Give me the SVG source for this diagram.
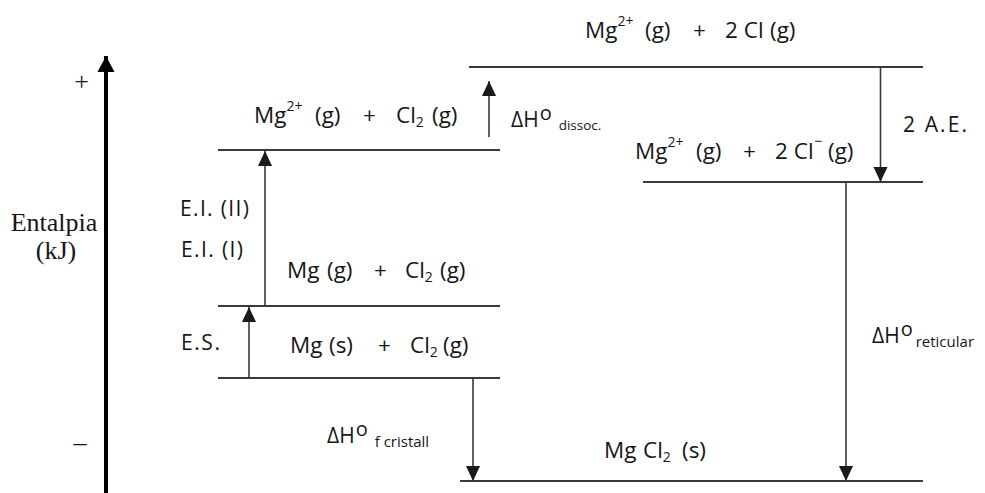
<svg xmlns="http://www.w3.org/2000/svg" width="985" height="493" viewBox="0 0 985 493">
<defs>
<marker id="ah" markerUnits="userSpaceOnUse" markerWidth="16" markerHeight="16" viewBox="0 0 16 16" refX="15" refY="8" orient="auto">
<path d="M0,1 L15,8 L0,15 Z" fill="#1a1a1a"/>
</marker>
<marker id="axh" markerUnits="userSpaceOnUse" markerWidth="18" markerHeight="18" viewBox="0 0 18 18" refX="16" refY="9" orient="auto">
<path d="M0,0.5 L16,9 L0,17.5 Z" fill="#000"/>
</marker>
<style>
.lvl{stroke:#3a3a3a;stroke-width:2;fill:none}
.arr{stroke:#3a3a3a;stroke-width:1.6;fill:none;marker-end:url(#ah)}
text{font-family:"Open Sans","Liberation Sans",Arial,sans-serif;fill:#161616}
.t{font-size:22.5px}
.sup{font-size:14px}
.sub{font-size:14px}
.lab{font-size:21px}
.dh{font-size:21px}
.o{font-size:20px}
.sm{font-size:13.5px}
.smr{font-size:15px}
.ser{font-family:"Liberation Serif","Times New Roman",serif;font-size:26px}
</style>
</defs>

<g id="axis">
<line x1="106" y1="493" x2="106" y2="56" stroke="#000" stroke-width="4" marker-end="url(#axh)"/>
<text class="ser" x="81.5" y="90" text-anchor="middle">+</text>
<text class="ser" x="80" y="451" text-anchor="middle">–</text>
<text class="ser" x="54" y="231" text-anchor="middle">Entalpia</text>
<text class="ser" x="56" y="259" text-anchor="middle">(kJ)</text>
</g>

<g id="level-top">
<line class="lvl" x1="469" y1="67" x2="923" y2="67"/>
<text class="t" y="38"><tspan x="585">Mg</tspan><tspan class="sup" dy="-12">2+</tspan><tspan x="645" dy="12">(g)</tspan><tspan x="693">+</tspan><tspan x="725">2 Cl</tspan><tspan x="770">(g)</tspan></text>
</g>

<g id="level-mg2-cl2">
<line class="lvl" x1="218" y1="150" x2="500" y2="150"/>
<text class="t" y="123"><tspan x="254">Mg</tspan><tspan class="sup" dy="-12">2+</tspan><tspan x="315" dy="12">(g)</tspan><tspan x="363">+</tspan><tspan x="396">Cl</tspan><tspan class="sub" dy="4">2</tspan><tspan x="432" dy="-4">(g)</tspan></text>
</g>

<g id="level-mg2-2clminus">
<line class="lvl" x1="643" y1="182" x2="923" y2="182"/>
<text class="t" y="159"><tspan x="635">Mg</tspan><tspan class="sup" dy="-12">2+</tspan><tspan x="696" dy="12">(g)</tspan><tspan x="743">+</tspan><tspan x="775">2 Cl</tspan><tspan class="sup" dy="-13" dx="1">−</tspan><tspan x="828" dy="13">(g)</tspan></text>
</g>

<g id="level-mg-g">
<line class="lvl" x1="218" y1="306" x2="500" y2="306"/>
<text class="t" y="278"><tspan x="287">Mg</tspan><tspan x="327">(g)</tspan><tspan x="374">+</tspan><tspan x="405">Cl</tspan><tspan class="sub" dy="4">2</tspan><tspan x="440" dy="-4">(g)</tspan></text>
</g>

<g id="level-mg-s">
<line class="lvl" x1="218" y1="378" x2="500" y2="378"/>
<text class="t" y="353"><tspan x="290">Mg</tspan><tspan x="329">(s)</tspan><tspan x="378">+</tspan><tspan x="410">Cl</tspan><tspan class="sub" dy="4">2</tspan><tspan x="443" dy="-4">(g)</tspan></text>
</g>

<g id="level-mgcl2">
<line class="lvl" x1="460" y1="481" x2="923" y2="481"/>
<text class="t" y="458"><tspan x="604">Mg</tspan><tspan x="643">Cl</tspan><tspan class="sub" dy="4">2</tspan><tspan x="682" dy="-4">(s)</tspan></text>
</g>

<g id="connectors">
<line class="arr" x1="265" y1="306" x2="265" y2="151"/>
<line class="arr" x1="249" y1="378" x2="249" y2="307"/>
<line class="arr" x1="489" y1="137" x2="489" y2="81"/>
<line class="arr" x1="880.5" y1="67" x2="880.5" y2="182"/>
<line class="arr" x1="846" y1="182" x2="846" y2="481"/>
<line class="arr" x1="473" y1="378" x2="473" y2="481"/>
</g>

<g id="labels">
<text class="lab" x="180" y="216" textLength="69" lengthAdjust="spacing">E.I. (II)</text>
<text class="lab" x="181" y="257" textLength="62" lengthAdjust="spacing">E.I. (I)</text>
<text class="lab" x="181" y="350" textLength="39" lengthAdjust="spacing">E.S.</text>
<text class="lab" x="903" y="132" textLength="64" lengthAdjust="spacing">2 A.E.</text>
<text class="dh" x="511" y="127">ΔH<tspan class="o" dy="-7" dx="1">o</tspan><tspan class="sm" dy="10" dx="7">dissoc.</tspan></text>
<text class="dh" x="872" y="343">ΔH<tspan class="o" dy="-7" dx="1">o</tspan><tspan class="smr" dy="11" dx="3">reticular</tspan></text>
<text class="dh" x="327" y="443">ΔH<tspan class="o" dy="-7" dx="1">o</tspan><tspan class="smr" dy="11" dx="7">f cristall</tspan></text>
</g>
</svg>
